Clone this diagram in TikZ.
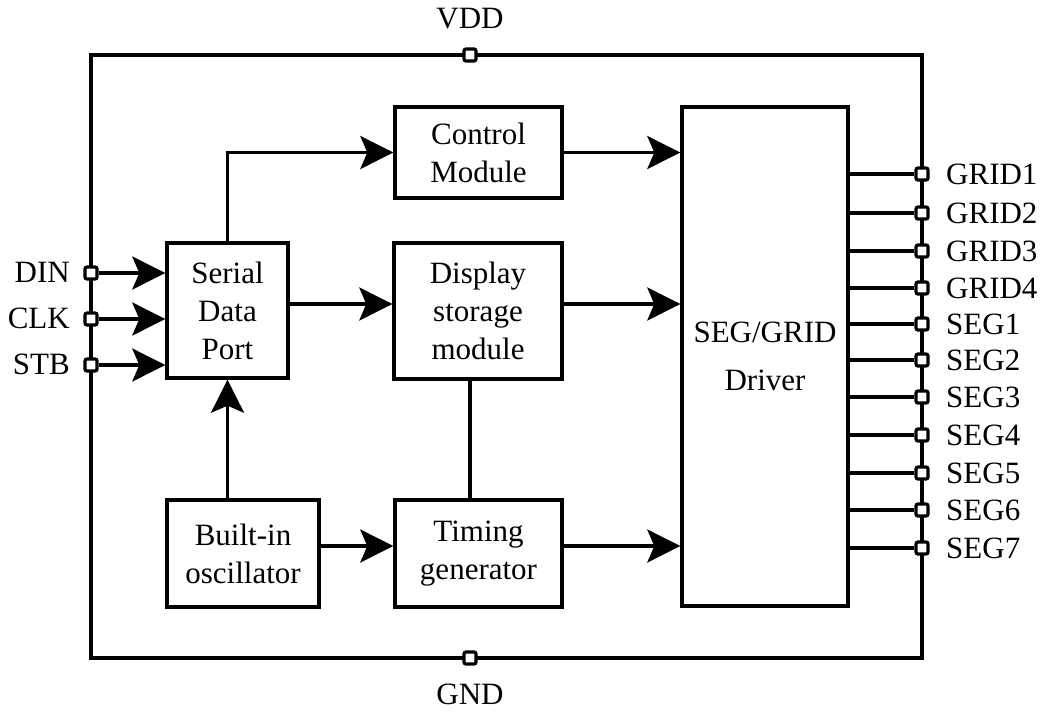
\documentclass[tikz,border=0pt]{standalone}
\usepackage{fontspec}
\setmainfont{Liberation Serif}
\usetikzlibrary{arrows.meta}
\begin{document}
\begin{tikzpicture}[x=1pt,y=-1pt,
  lw/.style={line width=3.4pt},
  blk/.style={draw,lw,align=center,inner sep=0pt,font=\fontsize{31}{38}\selectfont},
  arr/.style={lw,-{Stealth[length=33pt,width=33pt,inset=7pt]}},
  pinbox/.style={draw,fill=white,line width=3.2pt,minimum size=12pt,inner sep=0pt,rounded corners=2pt},
  lbl/.style={inner sep=0pt,font=\fontsize{31}{38}\selectfont}]
\useasboundingbox (0,0) rectangle (1051,713);
% frame
\node[draw,lw,minimum width=831pt,minimum height=603pt,inner sep=0pt] (frame) at (506.5,356.5) {};
% blocks
\node[blk,minimum width=121pt,minimum height=135pt] (sdp) at (227.5,310.5) {Serial\\Data\\Port};
\node[blk,minimum width=167pt,minimum height=91pt] (ctrl) at (478.5,152.5) {Control\\Module};
\node[blk,minimum width=168pt,minimum height=136pt] (disp) at (478,311) {Display\\storage\\module};
\node[blk,minimum width=152pt,minimum height=107pt] (osc) at (243,553.5) {Built-in\\oscillator};
\node[blk,minimum width=167pt,minimum height=107pt] (tim) at (478.5,553.5) {Timing\\generator};
\node[blk,minimum width=166pt,minimum height=499pt,font=\fontsize{31}{48}\selectfont] (drv) at (765,356.5) {SEG/GRID\\Driver};
% helper coordinates
\coordinate (rowA) at (0,304);
\coordinate (rowB) at (0,546);
\coordinate (colV) at (470,0);
% internal connections
\draw[arr] (sdp.north) |- (ctrl.west);
\draw[arr] (ctrl.east) -- (drv.west |- ctrl.east);
\draw[arr] (sdp.east |- rowA) -- (disp.west |- rowA);
\draw[arr] (disp.east |- rowA) -- (drv.west |- rowA);
\draw[arr] (osc.east |- rowB) -- (tim.west |- rowB);
\draw[arr] (tim.east |- rowB) -- (drv.west |- rowB);
\draw[arr] (sdp.south |- osc.north) -- (sdp.south);
\draw[lw] (disp.south -| colV) -- (tim.north -| colV);
% power pins
\node[pinbox] (pVDD) at (470,55) {};
\node[pinbox] (pGND) at (470,658) {};
\node[lbl,anchor=base] (lVDD) at (470,28) {VDD};
\node[lbl,anchor=base] (lGND) at (470,704) {GND};
% left pins
\node[pinbox] (pDIN) at (91,273) {};
\node[pinbox] (pCLK) at (91,319) {};
\node[pinbox] (pSTB) at (91,365) {};
\draw[arr] (pDIN.east) -- (sdp.west |- pDIN);
\draw[arr] (pCLK.east) -- (sdp.west |- pCLK);
\draw[arr] (pSTB.east) -- (sdp.west |- pSTB);
\node[lbl,anchor=east] (lDIN) at (70,272) {DIN};
\node[lbl,anchor=east] (lCLK) at (70,318) {CLK};
\node[lbl,anchor=east] (lSTB) at (70,364) {STB};
% right pins
\foreach \nm/\yy in {GRID1/174,GRID2/213,GRID3/251,GRID4/288,SEG1/324,SEG2/360,SEG3/397,SEG4/435,SEG5/473,SEG6/510,SEG7/548}{
  \node[pinbox] (p\nm) at (922,\yy) {};
  \draw[lw] (drv.east |- p\nm) -- (p\nm.west);
  \node[lbl,anchor=west] (l\nm) at (946,\yy) {\nm};
}
\end{tikzpicture}
\end{document}
